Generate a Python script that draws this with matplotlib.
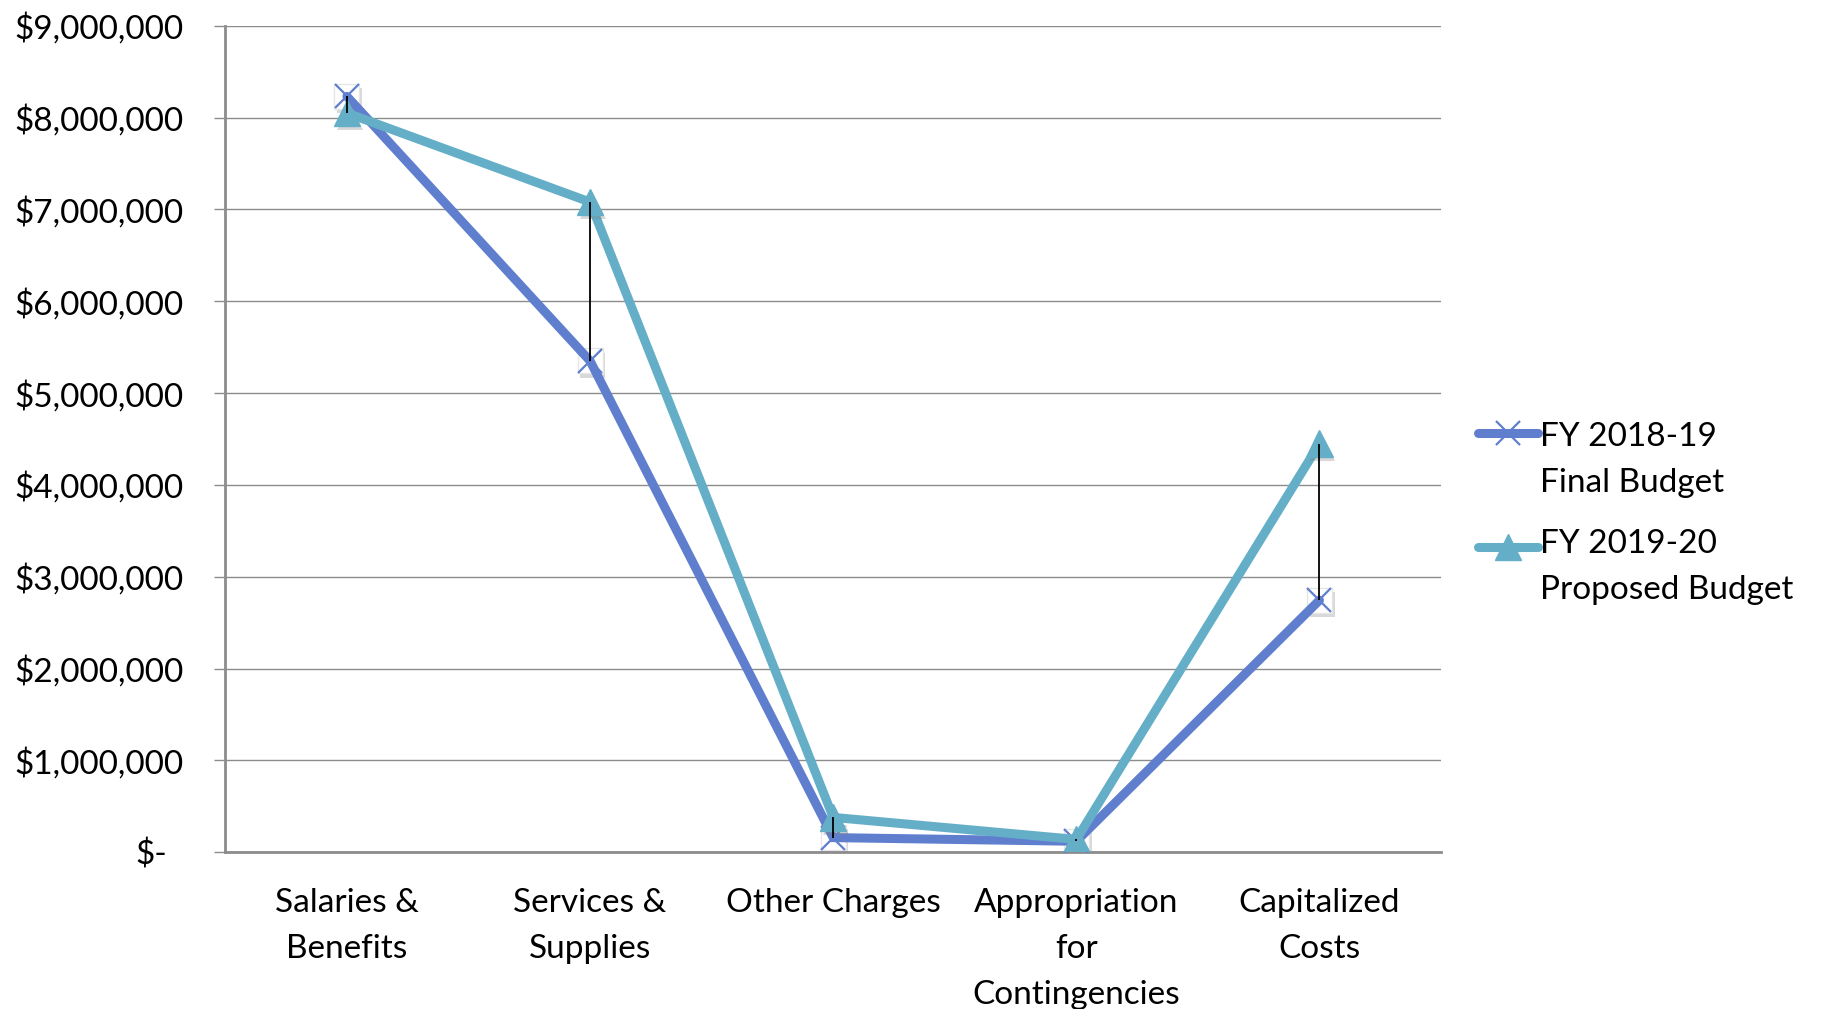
import numpy as np
import matplotlib
matplotlib.use("Agg")
import matplotlib.pyplot as plt
from matplotlib.lines import Line2D
from matplotlib.ticker import FixedLocator
import matplotlib.patheffects as pe
from matplotlib.transforms import ScaledTranslation

plt.rcParams['font.family'] = ['Lato', 'DejaVu Sans']

categories = ["Salaries &\nBenefits", "Services &\nSupplies", "Other Charges",
              "Appropriation\nfor\nContingencies", "Capitalized\nCosts"]
fy2018_final = [8230000, 5350000, 160000, 120000, 2745000]
fy2019_proposed = [8050000, 7080000, 380000, 140000, 4450000]
series_labels = ["FY 2018-19\nFinal Budget", "FY 2019-20\nProposed Budget"]
ytick_values = [0, 1000000, 2000000, 3000000, 4000000, 5000000,
                6000000, 7000000, 8000000, 9000000]

BLUE = "#5F7ECE"
TEAL = "#64AFC7"
GRID = "#8C8C8C"
FS = 24
LSP = 1.68

fig = plt.figure(figsize=(18.22, 10.09), dpi=100)
ax = fig.add_axes([0.1237, 0.1553, 0.7909 - 0.1237, 0.9745 - 0.1553])

x = np.arange(len(categories))
shadow = [pe.SimplePatchShadow(offset=(2, -3), shadow_rgbFace="#7f7f7f", alpha=0.3), pe.Normal()]

# white boxes behind the cross markers
ax.plot(x, fy2018_final, linestyle="none", marker="s", markersize=18,
        markerfacecolor="white", markeredgecolor="#e6e6e6", markeredgewidth=1,
        zorder=2, path_effects=shadow)
# series lines
ax.plot(x, fy2018_final, color=BLUE, linewidth=6.5, solid_capstyle="round",
        solid_joinstyle="miter", zorder=3)
ax.plot(x, fy2018_final, linestyle="none", marker="x", markersize=17,
        markeredgecolor=BLUE, markeredgewidth=1.6, zorder=4)
ax.plot(x, fy2019_proposed, color=TEAL, linewidth=6.5, solid_capstyle="round",
        solid_joinstyle="miter", zorder=5)
ax.plot(x, fy2019_proposed, linestyle="none", marker="^", markersize=19,
        markerfacecolor=TEAL, markeredgecolor=TEAL, zorder=6, path_effects=shadow)
# high-low lines
ax.vlines(x, fy2018_final, fy2019_proposed, colors="black", linewidth=1.3, zorder=7)

ax.set_xlim(-0.5, len(categories) - 0.5)
ax.set_ylim(0, 9000000)
ax.yaxis.set_major_locator(FixedLocator(ytick_values))
ax.set_yticklabels(["$-" if v == 0 else "${:,.0f}".format(v) for v in ytick_values])
ax.set_xticks(x)
ax.set_xticklabels(categories, linespacing=LSP)

ax.grid(axis="y", color=GRID, linewidth=1.0, zorder=0)
ax.set_axisbelow(True)
for side in ("top", "right"):
    ax.spines[side].set_visible(False)
for side in ("left", "bottom"):
    ax.spines[side].set_color(GRID)
    ax.spines[side].set_linewidth(2.0)

ax.tick_params(axis="y", direction="out", length=8, width=1.0, color=GRID,
               pad=22, labelsize=FS, labelcolor="black")
ax.tick_params(axis="x", length=0, pad=25.5, labelsize=FS, labelcolor="black")

# the zero label sits a little left of the digit column
zero_lbl = ax.get_yticklabels()[0]
zero_lbl.set_transform(zero_lbl.get_transform() + ScaledTranslation(-17 / 100, 0, fig.dpi_scale_trans))

# legend
W, H = 1822.0, 1009.0
entries = [(BLUE, "x", 433, 423), (TEAL, "^", 547, 530)]
for (col, mk, ly, ty), lab in zip(entries, series_labels):
    yf = 1 - ly / H
    fig.add_artist(Line2D([1478 / W, 1538 / W], [yf, yf], color=col, linewidth=6.5,
                          solid_capstyle="round", transform=fig.transFigure))
    if mk == "x":
        fig.add_artist(Line2D([1508 / W], [yf], linestyle="none", marker="x", markersize=17,
                              markeredgecolor=col, markeredgewidth=1.6, transform=fig.transFigure))
    else:
        fig.add_artist(Line2D([1508 / W], [yf], linestyle="none", marker="^", markersize=19,
                              markerfacecolor=col, markeredgecolor=col, transform=fig.transFigure))
    fig.text(1540 / W, 1 - (ty - 1) / H, lab, fontsize=FS, va="top", ha="left",
             linespacing=LSP, color="black")

fig.savefig("out.png", dpi=100, facecolor="white")
